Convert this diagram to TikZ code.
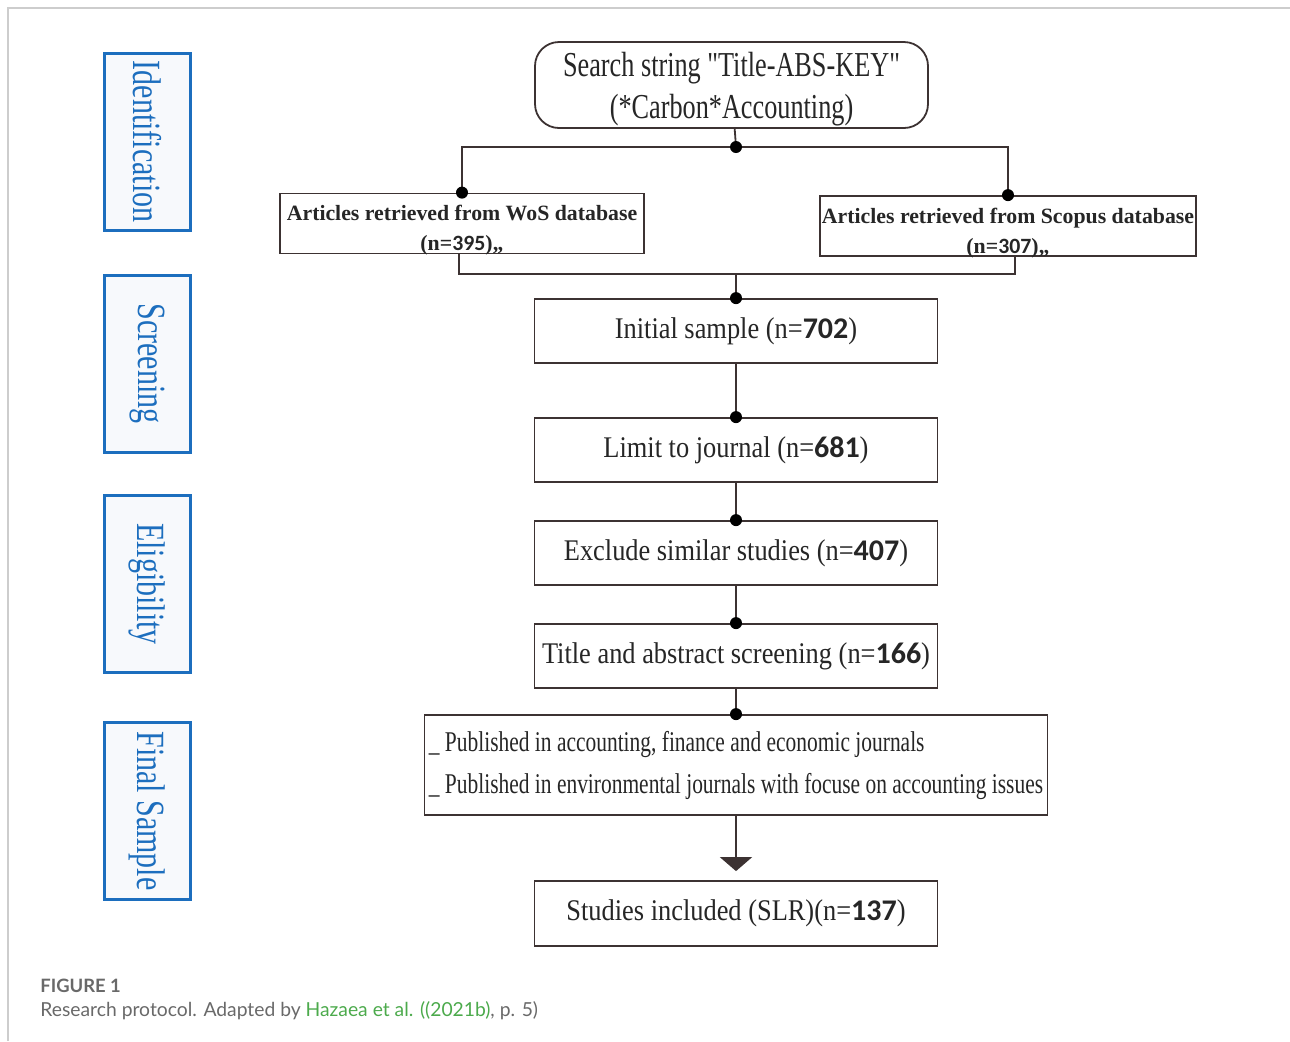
\documentclass[tikz,border=0pt]{standalone}
\usepackage{fontspec}
\setmainfont{Liberation Serif}
\newfontfamily\flowfont[FakeStretch=0.88]{Liberation Serif}
\newfontfamily\condfont[FakeStretch=0.75]{Liberation Serif}
\newfontfamily\numfont{Carlito}
\newfontfamily\capfont{Lato}
\usetikzlibrary{arrows.meta}

\definecolor{edge}{RGB}{60,50,50}
\definecolor{stageblue}{RGB}{28,110,190}
\definecolor{stagefill}{RGB}{247,249,252}
\definecolor{capgray}{RGB}{105,105,105}
\definecolor{capgreen}{RGB}{76,170,76}
\definecolor{framegray}{RGB}{205,205,205}
\newcommand{\nb}[1]{{\numfont\bfseries #1}}
% two centred lines, drawn a bit lower than the box centre
\newcommand{\lowered}[2]{\raisebox{-#1}[\height][\depth]{\begin{tabular}{@{}c@{}}#2\end{tabular}}}

\begin{document}
\begin{tikzpicture}[x=0.5pt,y=-0.5pt,
    box/.style={draw=edge,line width=0.9pt,fill=white,inner sep=0pt,
      minimum width=201.5pt,minimum height=32pt,text=black!85,
      font=\flowfont\fontsize{15}{18}\selectfont},
    dbbox/.style={box,minimum height=30pt,
      font=\bfseries\fontsize{10.9}{15}\selectfont},
    stage/.style={draw=stageblue,line width=1.5pt,fill=stagefill,rotate=-90,
      minimum width=88.5pt,minimum height=43pt,inner sep=0pt,text=stageblue,
      font=\condfont\fontsize{20}{22}\selectfont},
    link/.style={draw=edge,line width=0.9pt}]
  \useasboundingbox (0,0) rectangle (1290,1041);
  \draw [framegray,line width=1pt] (8,1041) -- (8,8) -- (1290,8);

  % stages on the left
  \node [stage] (ident) at (147,141.5) {Identification};
  \node [stage] (screen) at (147,363.5) {Screening};
  \node [stage] (elig) at (147,584) {Eligibility};
  \node [stage] (final) at (147,811) {Final Sample};

  % flow
  \node [box,rounded corners=12pt,minimum width=196.5pt,minimum height=43pt,
    font=\condfont\fontsize{17.5}{21}\selectfont] (search) at (731.5,85)
    {\lowered{2.2pt}{Search string "Title-ABS-KEY"\\(*Carbon*Accounting)}};
  \node [dbbox,minimum width=182pt] (wos) at (462,223.5)
    {\lowered{3.2pt}{Articles retrieved from WoS database\\(n=\nb{395}),,}};
  \node [dbbox,minimum width=188pt] (scopus) at (1008,226)
    {\lowered{3pt}{Articles retrieved from Scopus database\\(n=\nb{307}),,}};
  \node [box] (init) at (736,331) {Initial sample (n=\nb{702})};
  \node [box] (limit) at (736,450) {Limit to journal (n=\nb{681})};
  \node [box] (excl) at (736,553) {Exclude similar studies (n=\nb{407})};
  \node [box] (title) at (736,656) {Title and abstract screening (n=\nb{166})};
  \node [box,minimum width=311.5pt,minimum height=50pt,align=left,
    font=\condfont\fontsize{14.3}{21}\selectfont] (pub) at (736,765)
    {\_ Published in accounting, finance and economic journals\\
     \_ Published in environmental journals with focuse on accounting issues};
  \node [box,minimum height=32.5pt] (incl) at (736,913.5) {Studies included (SLR)(n=\nb{137})};

  \coordinate (split) at (736,147);
  \coordinate (merge) at (736,274);

  \draw [link] (search) -- (split);
  \draw [link] (wos.north) |- (split) -| (scopus.north);
  \draw [link] ([xshift=-1.5pt]wos.south) |- (merge) -| ([xshift=3.5pt]scopus.south);
  \draw [link] (merge) -- (init);
  \draw [link] (init) -- (limit);
  \draw [link] (limit) -- (excl);
  \draw [link] (excl) -- (title);
  \draw [link] (title) -- (pub);
  \draw [link,-{Triangle[width=16pt,length=7pt]},shorten >=4.5pt] (pub) -- (incl);
  \foreach \p in {split,wos.north,scopus.north,init.north,limit.north,excl.north,title.north,pub.north}
    \fill [black] (\p) circle [radius=3pt];

  % caption
  \node [anchor=base west,inner sep=0pt,text=capgray,
    font=\capfont\bfseries\fontsize{9.2}{11}\selectfont] (figno) at (40,992) {FIGURE 1};
  \node [anchor=base west,inner sep=0pt,text=capgray,
    font=\capfont\fontsize{9.65}{11}\selectfont] (caption) at (40,1016)
    {Research protocol. Adapted by \textcolor{capgreen}{Hazaea et al. ((2021b)}, p. 5)};
\end{tikzpicture}
\end{document}
